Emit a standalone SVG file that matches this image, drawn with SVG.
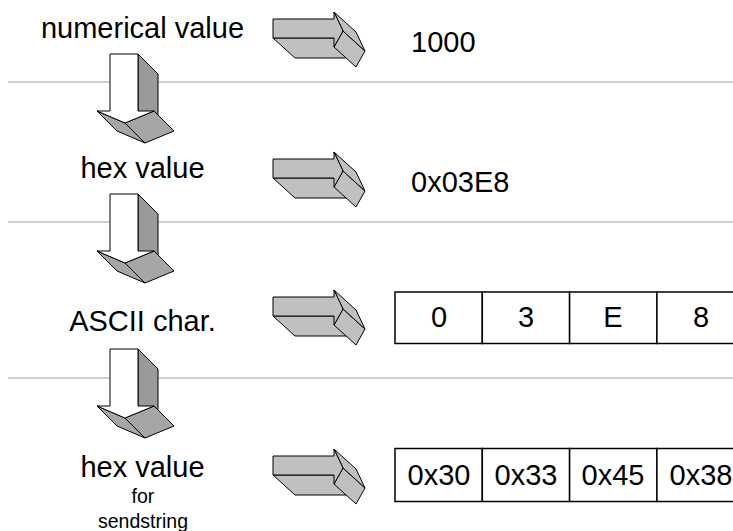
<svg xmlns="http://www.w3.org/2000/svg" xmlns:xlink="http://www.w3.org/1999/xlink" width="733" height="531" viewBox="0 0 733 531">
<style>
.t{font-family:"Liberation Sans",Arial,sans-serif;font-size:29px;fill:#000}
.s{font-family:"Liberation Sans",Arial,sans-serif;font-size:19.5px;fill:#000}
.sep{stroke:#c0c0c0;stroke-width:1.5;fill:none}
.ra polygon{fill:#c0c0c0;stroke:#000;stroke-width:1;stroke-linejoin:round}
.da polygon{stroke:#000;stroke-width:1;stroke-linejoin:round}
.box{fill:#fff;stroke:#000;stroke-width:1.5}
</style>
<defs>
<g id="rarrow" class="ra">
<polygon points="273,38 334,38 356,58 295,58"/>
<polygon points="343,31 334,47 356,67 365,51"/>
<polygon points="334,12 343,31 365,51 356,32"/>
<polygon points="273,19 334,19 334,12 343,31 334,47 334,38 273,38"/>
</g>
<g id="darrow" class="da">
<polygon points="138,54 158,74 158,131 138,111" fill="#9a9a9a"/>
<polygon points="97,111 125,123 145,143 117,131" fill="#a6a6a6"/>
<polygon points="125,123 154,111 174,131 145,143" fill="#a6a6a6"/>
<polygon points="110,54 138,54 138,111 154,111 125,123 97,111 110,111" fill="#fff"/>
</g>
</defs>
<rect width="733" height="531" fill="#fff"/>
<g id="separators">
<line class="sep" x1="8" y1="82" x2="733" y2="82"/>
<line class="sep" x1="8" y1="222" x2="733" y2="222"/>
<line class="sep" x1="8" y1="378" x2="733" y2="378"/>
</g>
<g id="connectors">
<use xlink:href="#darrow"/>
<use xlink:href="#darrow" transform="translate(0,140)"/>
<use xlink:href="#darrow" transform="translate(0,295)"/>
<use xlink:href="#rarrow"/>
<use xlink:href="#rarrow" transform="translate(0,140)"/>
<use xlink:href="#rarrow" transform="translate(0,278)"/>
<use xlink:href="#rarrow" transform="translate(0,437)"/>
</g>
<g id="n-numerical"><text class="t" x="142.5" y="38" text-anchor="middle">numerical value</text></g>
<g id="n-hex"><text class="t" x="142.5" y="178" text-anchor="middle">hex value</text></g>
<g id="n-ascii"><text class="t" x="142.5" y="331" text-anchor="middle">ASCII char.</text></g>
<g id="n-hexsend">
<text class="t" x="142.5" y="477" text-anchor="middle">hex value</text>
<text class="s" x="143" y="503" text-anchor="middle">for</text>
<text class="s" x="143" y="528" text-anchor="middle">sendstring</text>
</g>
<g id="v-1000"><text class="t" x="411" y="52">1000</text></g>
<g id="v-hex"><text class="t" x="411" y="192">0x03E8</text></g>
<g id="v-ascii">
<rect class="box" x="395" y="292" width="87.3" height="51.5"/>
<rect class="box" x="482.3" y="292" width="87.3" height="51.5"/>
<rect class="box" x="569.6" y="292" width="87.3" height="51.5"/>
<rect class="box" x="656.9" y="292" width="87.3" height="51.5"/>
<text class="t" x="439" y="327" text-anchor="middle">0</text>
<text class="t" x="526" y="327" text-anchor="middle">3</text>
<text class="t" x="613" y="327" text-anchor="middle">E</text>
<text class="t" x="701" y="327" text-anchor="middle">8</text>
</g>
<g id="v-bytes">
<rect class="box" x="395" y="448.5" width="87.3" height="53"/>
<rect class="box" x="482.3" y="448.5" width="87.3" height="53"/>
<rect class="box" x="569.6" y="448.5" width="87.3" height="53"/>
<rect class="box" x="656.9" y="448.5" width="87.3" height="53"/>
<text class="t" x="439" y="485" text-anchor="middle">0x30</text>
<text class="t" x="526" y="485" text-anchor="middle">0x33</text>
<text class="t" x="613" y="485" text-anchor="middle">0x45</text>
<text class="t" x="701" y="485" text-anchor="middle">0x38</text>
</g>
</svg>
